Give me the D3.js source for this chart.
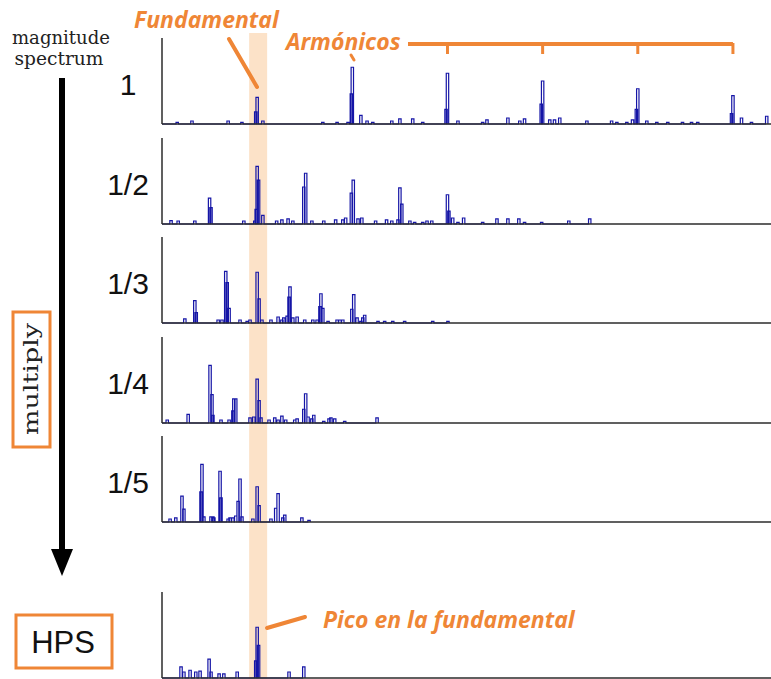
<!DOCTYPE html>
<html>
<head>
<meta charset="utf-8">
<script src="https://cdn.jsdelivr.net/npm/d3@7"></script>
<style>
  html, body { margin: 0; padding: 0; background: #fff; }
  svg { display: block; }
</style>
</head>
<body>
<svg id="chart" width="771" height="679"></svg>
<script>
// Harmonic Product Spectrum: the magnitude spectrum and its downsampled copies
// (frequency in Hz, magnitude normalised to the tallest possible peak = 1).
const panelLabels = ["1", "1/2", "1/3", "1/4", "1/5"];

const freq1 = [32, 63, 139, 168, 197, 200, 212, 338, 368, 391, 398, 400, 418, 431, 443, 483, 500, 527, 548,
  597, 600, 622, 674, 683, 727, 752, 762, 797, 800, 815, 825, 836, 893, 945, 956, 977, 989, 997, 1000,
  1019, 1040, 1063, 1094, 1113, 1126, 1197, 1200, 1218, 1239, 1271];
const mag1 = [0.02, 0.035, 0.035, 0.018, 0.14, 0.31, 0.035, 0.02, 0.02, 0.02, 0.35, 0.66, 0.10, 0.035, 0.02, 0.035, 0.06, 0.06, 0.02,
  0.17, 0.59, 0.035, 0.02, 0.047, 0.07, 0.035, 0.06, 0.23, 0.50, 0.047, 0.047, 0.07, 0.035, 0.035, 0.02, 0.02, 0.047, 0.17, 0.41,
  0.035, 0.02, 0.018, 0.02, 0.02, 0.02, 0.12, 0.33, 0.07, 0.02, 0.09];

const freq2 = [19, 34, 69, 100, 103, 172, 195, 198, 200, 203, 212, 241, 252, 265, 275, 298, 302, 315, 340, 365, 380, 386,
  398, 402, 412, 420, 449, 472, 483, 496, 500, 504, 521, 531, 548, 557, 567, 600, 603, 611, 622, 634, 674, 704, 727,
  750, 762, 798, 855, 899];
const mag2 = [0.04, 0.035, 0.035, 0.30, 0.19, 0.035, 0.035, 0.17, 0.67, 0.51, 0.10, 0.035, 0.047, 0.06, 0.035, 0.43, 0.59, 0.035, 0.035, 0.047, 0.047, 0.07,
  0.36, 0.51, 0.06, 0.07, 0.035, 0.047, 0.035, 0.047, 0.42, 0.23, 0.035, 0.02, 0.02, 0.035, 0.035, 0.34, 0.15, 0.07, 0.02, 0.07, 0.02, 0.06, 0.06,
  0.06, 0.02, 0.018, 0.035, 0.06];

const freq3 = [48, 69, 72, 118, 126, 134, 137, 141, 164, 179, 185, 200, 204, 210, 229, 244, 252, 256, 263, 267, 269, 275,
  284, 300, 317, 326, 332, 334, 338, 349, 368, 374, 380, 399, 403, 410, 418, 422, 426, 454, 468, 485, 510, 569, 601];
const mag3 = [0.047, 0.26, 0.12, 0.035, 0.035, 0.60, 0.47, 0.17, 0.035, 0.02, 0.035, 0.59, 0.28, 0.035, 0.035, 0.07, 0.035, 0.06, 0.08, 0.30, 0.42, 0.06,
  0.07, 0.035, 0.035, 0.035, 0.19, 0.34, 0.17, 0.02, 0.035, 0.035, 0.035, 0.16, 0.33, 0.06, 0.02, 0.06, 0.09, 0.018, 0.018, 0.02, 0.018, 0.02, 0.02];

const freq4 = [11, 55, 101, 105, 107, 124, 141, 149, 151, 155, 185, 193, 200, 204, 208, 225, 237, 244, 252, 260, 279, 284,
  298, 302, 307, 315, 319, 340, 351, 355, 363, 384, 452];
const mag4 = [0.035, 0.10, 0.67, 0.33, 0.09, 0.035, 0.035, 0.14, 0.28, 0.28, 0.06, 0.07, 0.51, 0.26, 0.06, 0.035, 0.06, 0.035, 0.08, 0.035, 0.035, 0.047,
  0.16, 0.34, 0.07, 0.047, 0.09, 0.02, 0.047, 0.06, 0.047, 0.02, 0.06];

const freq5 = [17, 29, 42, 46, 82, 84, 88, 103, 107, 109, 122, 124, 139, 143, 149, 155, 160, 164, 168, 191, 200, 204,
  229, 239, 244, 254, 258, 294, 309];
const mag5 = [0.035, 0.047, 0.30, 0.15, 0.35, 0.67, 0.06, 0.06, 0.06, 0.047, 0.59, 0.28, 0.035, 0.047, 0.047, 0.07, 0.24, 0.50, 0.06, 0.035, 0.41, 0.19,
  0.035, 0.16, 0.33, 0.047, 0.08, 0.047, 0.02];

const freqHps = [40, 46, 59, 71, 80, 99, 103, 120, 130, 158, 197, 200, 203, 267, 298];
const magHps = [0.13, 0.07, 0.09, 0.07, 0.08, 0.22, 0.07, 0.047, 0.047, 0.07, 0.20, 0.59, 0.38, 0.07, 0.13];

const fundamentalHz = 200;
const harmonicsHz = [600, 800, 1000, 1200];   // bracket ticks above panel 1

const spectra = [
  { f: freq1, m: mag1 }, { f: freq2, m: mag2 }, { f: freq3, m: mag3 },
  { f: freq4, m: mag4 }, { f: freq5, m: mag5 }
];

const ORANGE = "#ef8636";
const BLUE = "#1515a6";
const AXIS = "#2b2b2b";

const svg = d3.select("#chart");
const left = 162, right = 771, plotH = 86;
const baselines = [124, 224, 323, 423, 522];
const hpsBase = 678;

const x = d3.scaleLinear().domain([0, 1280]).range([left, right]);
const y = d3.scaleLinear().domain([0, 1]).range([0, plotH]);

// highlighted fundamental band
svg.append("rect")
  .attr("x", x(fundamentalHz) - 8).attr("y", 33)
  .attr("width", 18).attr("height", 679 - 33)
  .attr("fill", "#fce2c8");

// draws one spectrum as a thin outline of narrow peaks along the baseline
function drawSpectrum(g, f, m, base) {
  const pts = [[left, base]];
  const idx = d3.range(f.length).sort((a, b) => f[a] - f[b]);
  idx.forEach(i => {
    const cx = x(f[i]);
    const top = base - y(m[i]);
    pts.push([cx - 1.2, base], [cx - 1.2, top], [cx + 1.2, top], [cx + 1.2, base]);
  });
  g.append("path")
    .attr("d", d3.line()(pts))
    .attr("fill", "none")
    .attr("stroke", BLUE)
    .attr("stroke-width", 1.2)
    .attr("stroke-linejoin", "miter");
}

function drawAxes(g, base, lastX) {
  g.append("line").attr("x1", left).attr("x2", left)
    .attr("y1", base - plotH).attr("y2", base)
    .attr("stroke", AXIS).attr("stroke-width", 1.5);
  g.append("line").attr("x1", left).attr("x2", lastX)
    .attr("y1", base).attr("y2", base)
    .attr("stroke", AXIS).attr("stroke-width", 1.6);
}

spectra.forEach((s, i) => {
  const g = svg.append("g");
  drawSpectrum(g, s.f, s.m, baselines[i]);
  drawAxes(g, baselines[i], right);
  g.append("text")
    .attr("x", 128).attr("y", baselines[i] - plotH + 57)
    .attr("text-anchor", "middle")
    .attr("font-family", "Liberation Sans, Arial, sans-serif")
    .attr("font-size", 30)
    .attr("fill", "#111")
    .text(panelLabels[i]);
});

// HPS result
const gh = svg.append("g");
drawSpectrum(gh, freqHps, magHps, hpsBase);
drawAxes(gh, hpsBase, right);

// left column: caption, arrow, "multiply" and "HPS" boxes
const serif = "DejaVu Serif, Liberation Serif, serif";
svg.append("text").attr("x", 61).attr("y", 44).attr("text-anchor", "middle")
  .attr("font-family", serif).attr("font-size", 18.5).attr("fill", "#222")
  .attr("textLength", 98).attr("lengthAdjust", "spacingAndGlyphs").text("magnitude");
svg.append("text").attr("x", 59).attr("y", 65).attr("text-anchor", "middle")
  .attr("font-family", serif).attr("font-size", 18.5).attr("fill", "#222")
  .attr("textLength", 89).attr("lengthAdjust", "spacingAndGlyphs").text("spectrum");

svg.append("line").attr("x1", 62).attr("x2", 62).attr("y1", 78).attr("y2", 552)
  .attr("stroke", "#000").attr("stroke-width", 6);
svg.append("path").attr("d", "M51,549 L73,549 L62,576 Z").attr("fill", "#000");

svg.append("rect").attr("x", 13).attr("y", 312).attr("width", 37).attr("height", 135)
  .attr("fill", "#fff").attr("stroke", ORANGE).attr("stroke-width", 3);
svg.append("text")
  .attr("transform", "translate(38,379) rotate(-90)")
  .attr("text-anchor", "middle")
  .attr("font-family", serif).attr("font-size", 21).attr("fill", "#222")
  .attr("textLength", 112).attr("lengthAdjust", "spacingAndGlyphs")
  .text("multiply");

svg.append("rect").attr("x", 16).attr("y", 615).attr("width", 96).attr("height", 53)
  .attr("fill", "#fff").attr("stroke", ORANGE).attr("stroke-width", 3);
svg.append("text").attr("x", 63).attr("y", 653).attr("text-anchor", "middle")
  .attr("font-family", "Liberation Sans, Arial, sans-serif").attr("font-size", 31).attr("fill", "#111")
  .text("HPS");

// annotations
const annFont = "Open Sans, Lato, sans-serif";
function note(tx, ty, txt, size) {
  svg.append("text").attr("x", tx).attr("y", ty)
    .attr("font-family", annFont).attr("font-size", size)
    .attr("font-style", "italic").attr("font-weight", 700)
    .attr("fill", ORANGE).text(txt);
}
note(134, 28, "Fundamental", 23);
note(286, 50, "Armónicos", 23);
note(323, 628, "Pico en la fundamental", 23);

svg.append("line").attr("x1", 229).attr("y1", 39).attr("x2", 257).attr("y2", 87)
  .attr("stroke", ORANGE).attr("stroke-width", 4).attr("stroke-linecap", "round");
svg.append("line").attr("x1", 351).attr("y1", 55).attr("x2", 354).attr("y2", 60)
  .attr("stroke", ORANGE).attr("stroke-width", 3).attr("stroke-linecap", "round");
svg.append("line").attr("x1", 267).attr("y1", 628).attr("x2", 305).attr("y2", 617)
  .attr("stroke", ORANGE).attr("stroke-width", 4).attr("stroke-linecap", "round");

// harmonic bracket
svg.append("line").attr("x1", 408).attr("x2", x(harmonicsHz[harmonicsHz.length - 1]))
  .attr("y1", 44).attr("y2", 44).attr("stroke", ORANGE).attr("stroke-width", 4);
svg.selectAll("line.htick").data(harmonicsHz).enter().append("line")
  .attr("class", "htick")
  .attr("x1", d => x(d)).attr("x2", d => x(d))
  .attr("y1", 43).attr("y2", 54)
  .attr("stroke", ORANGE).attr("stroke-width", 3);
</script>
</body>
</html>
